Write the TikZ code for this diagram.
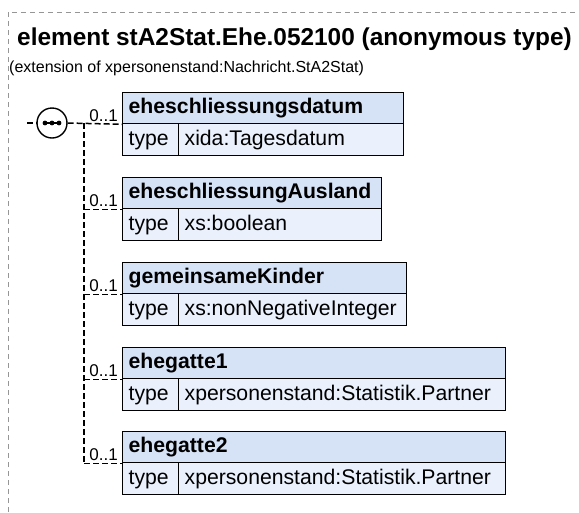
\documentclass[tikz,border=0pt]{standalone}
\usepackage{fontspec}
\setmainfont{Liberation Sans}
\definecolor{hdrfill}{RGB}{214,227,247}
\definecolor{rowfill}{RGB}{234,241,252}
\definecolor{bordergray}{RGB}{150,150,150}
\begin{document}
\begin{tikzpicture}[x=1pt,y=-1pt,
  cell/.style={draw=black, line width=1.3pt, anchor=north west, inner xsep=6pt, inner ysep=0pt,
    text height=15pt, text depth=4.3pt, align=left, font=\fontsize{21.2}{24}\selectfont},
  hdr/.style={cell, fill=hdrfill, minimum height=31pt, font=\fontsize{21.2}{24}\selectfont\bfseries},
  row/.style={cell, fill=rowfill, minimum height=32pt},
  conn/.style={draw=black, line width=1.5pt, dash pattern=on 6pt off 3pt},
  card/.style={anchor=base east, inner sep=0pt, font=\fontsize{17}{19}\selectfont},
  frame/.style={draw=bordergray, line width=0.8pt, dash pattern=on 5pt off 4pt}]
\useasboundingbox (0,0) rectangle (579,512);
\draw[frame] (8,512) -- (8,12) -- (579,12);
\node[anchor=base west, inner sep=0pt, font=\fontsize{24.4}{28}\selectfont\bfseries] (title) at (17,45) {element stA2Stat.Ehe.052100 (anonymous type)};
\node[anchor=base west, inner sep=0pt, font=\fontsize{16}{19}\selectfont] (sub) at (9,72) {(extension of xpersonenstand:Nachricht.StA2Stat)};
% compositor
\node[circle, draw=black, line width=1.4pt, fill=white, minimum size=30pt, inner sep=0pt] (seq) at (52,123) {};
\draw[line width=1.4pt] (45,123) -- (59,123);
\foreach \dx in {-7,0,7} \fill (52+\dx,123) circle (2.4pt);
\coordinate (inl) at (27,123);
\draw[conn] (inl) -- (seq.west);
% boxes
\node[hdr, text width=269pt] (h1) at (122,92) {eheschliessungsdatum};
\node[row, text width=44pt] (t1) at (122,123) {type};
\node[row, text width=213pt] (v1) at (178,123) {xida:Tagesdatum};
\node[hdr, text width=247pt] (h2) at (122,177) {eheschliessungAusland};
\node[row, text width=44pt] (t2) at (122,208) {type};
\node[row, text width=191pt] (v2) at (178,208) {xs:boolean};
\node[hdr, text width=272pt] (h3) at (122,262) {gemeinsameKinder};
\node[row, text width=44pt] (t3) at (122,293) {type};
\node[row, text width=216pt] (v3) at (178,293) {xs:nonNegativeInteger};
\node[hdr, text width=371pt] (h4) at (122,347) {ehegatte1};
\node[row, text width=44pt] (t4) at (122,378) {type};
\node[row, text width=315pt] (v4) at (178,378) {xpersonenstand:Statistik.Partner};
\node[hdr, text width=371pt] (h5) at (122,431) {ehegatte2};
\node[row, text width=44pt] (t5) at (122,462) {type};
\node[row, text width=315pt] (v5) at (178,462) {xpersonenstand:Statistik.Partner};
% connectors
\coordinate (j) at (84,123);
\draw[conn] (seq.east) -- (h1.south west);
\draw[conn] (j) -- (j |- h5.south west);
\foreach \k in {2,3,4,5} \draw[conn] (j |- h\k.south west) -- (h\k.south west);
\foreach \k in {1,2,3,4,5} \node[card] (c\k) at ([xshift=-4pt,yshift=3pt]h\k.south west) {0..1};
\end{tikzpicture}
\end{document}
